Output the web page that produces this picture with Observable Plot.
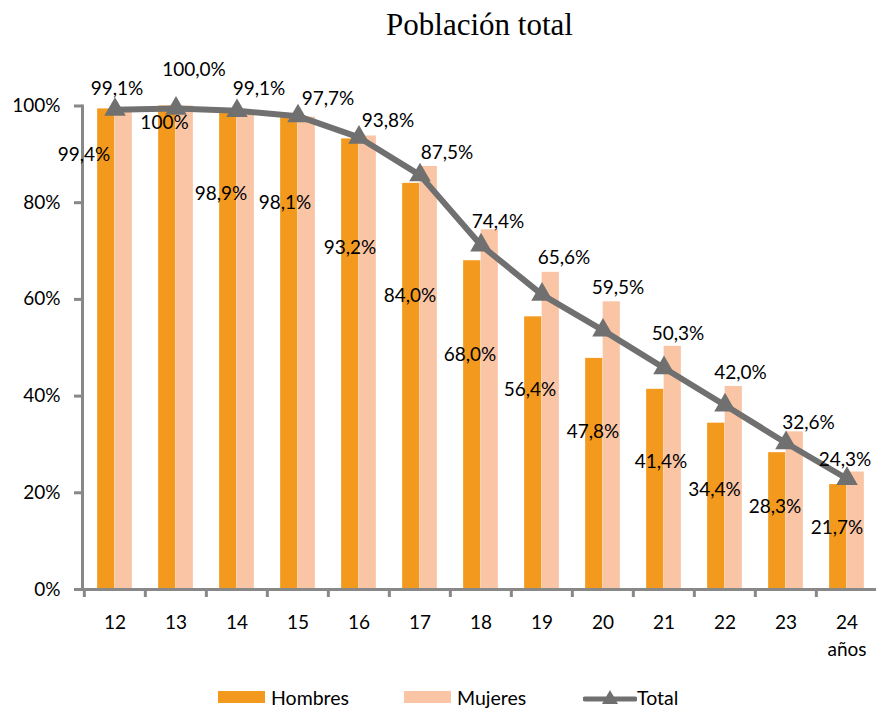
<!DOCTYPE html>
<html>
<head>
<meta charset="utf-8">
<script src="https://cdn.jsdelivr.net/npm/d3@7"></script>
<script src="https://cdn.jsdelivr.net/npm/@observablehq/plot@0.6"></script>
<style>
  html, body { margin: 0; padding: 0; background: #fff; }
  #wrap { position: relative; width: 876px; height: 709px; overflow: hidden; }
  #legend { position: absolute; left: 0; top: 686px; width: 876px; height: 22px;
            font-family: Lato, "Open Sans", sans-serif; font-size: 19.5px; color: #000; }
  .li { position: absolute; top: 0; display: flex; align-items: center; height: 22px; }
  .sw { width: 47px; height: 12px; margin-right: 6px; }
</style>
</head>
<body>
<div id="wrap">
  <div id="chart"></div>
  <div id="legend"></div>
</div>
<script>
// ---- data ----
const ages = [12, 13, 14, 15, 16, 17, 18, 19, 20, 21, 22, 23, 24];
const hombres = [99.4, 100, 98.9, 98.1, 93.2, 84.0, 68.0, 56.4, 47.8, 41.4, 34.4, 28.3, 21.7];
const mujeres = [99.1, 100.0, 99.1, 97.7, 93.8, 87.5, 74.4, 65.6, 59.5, 50.3, 42.0, 32.6, 24.3];
const total = [99.25, 99.5, 99.0, 97.9, 93.5, 85.7, 71.2, 61.0, 53.6, 45.8, 38.1, 30.3, 22.9];
const hombresText = ["99,4%", "100%", "98,9%", "98,1%", "93,2%", "84,0%", "68,0%", "56,4%", "47,8%", "41,4%", "34,4%", "28,3%", "21,7%"];
const mujeresText = ["99,1%", "100,0%", "99,1%", "97,7%", "93,8%", "87,5%", "74,4%", "65,6%", "59,5%", "50,3%", "42,0%", "32,6%", "24,3%"];
const yTicks = [0, 20, 40, 60, 80, 100];
const title = "Población total";
const unitLabel = "años";
const seriesNames = ["Hombres", "Mujeres", "Total"];

// ---- label placement (manual nudges as in the original) ----
const hombresLabelAt = [89.8, 96.4, 81.9, 80.0, 70.7, 60.8, 48.6, 41.2, 32.5, 26.3, 20.7, 17.0, 12.8];
const hombresLabelDx = [-31, -11.5, -16, -13, -9, -10, -11, -12, -10, -3, -10.5, -11, -10];
const mujeresLabelAt = [103.5, 107.4, 103.5, 101.5, 97.0, 90.4, 76.1, 68.5, 62.3, 52.9, 44.7, 34.5, 26.7];
const mujeresLabelDx = [2, 18, 22, 30, 29, 27, 17, 22, 15, 14, 15.5, 22.5, -2];

// ---- styles ----
const cH = "#F39A1E", cM = "#F9C5A5", cT = "#707070", cAxis = "#888888";
const font = "Lato, 'Open Sans', sans-serif";
const fs = 19;

const rows = ages.map((a, i) => ({age: a, h: hombres[i], m: mujeres[i], t: total[i],
  ht: hombresText[i], mt: mujeresText[i], hy: hombresLabelAt[i], my: mujeresLabelAt[i],
  hdx: hombresLabelDx[i], mdx: mujeresLabelDx[i]}));

const W = 876, H = 709;
const x0 = 82, x1 = 879;
const bw = (x1 - x0) / ages.length;
const barW = 17.5;

const labelMarks = [];
rows.forEach(r => {
  labelMarks.push(Plot.text([r], {x: "age", y: "hy", text: "ht", dx: r.hdx, fontSize: fs, fill: "#000", textAnchor: "middle"}));
  labelMarks.push(Plot.text([r], {x: "age", y: "my", text: "mt", dx: r.mdx, fontSize: fs, fill: "#000", textAnchor: "middle"}));
});

const chart = Plot.plot({
  width: W, height: H,
  marginLeft: x0, marginRight: 0, marginTop: 105.5, marginBottom: 120,
  style: {fontFamily: font, fontSize: fs + "px", color: "#000", background: "#fff"},
  x: {type: "band", domain: ages, range: [x0, x1], padding: 0},
  y: {domain: [0, 100], range: [589, 105.5]},
  marks: [
    Plot.barY(rows, {x: "age", y: "h", fill: cH, insetLeft: bw / 2 - barW, insetRight: bw / 2}),
    Plot.barY(rows, {x: "age", y: "m", fill: cM, insetLeft: bw / 2, insetRight: bw / 2 - barW}),
    Plot.axisY({ticks: yTicks, tickFormat: d => d + "%", tickSize: 8, tickPadding: 14, stroke: cAxis, strokeWidth: 3, fontSize: fs, label: null}),
    Plot.axisX({ticks: ages, tickSize: 8, tickFormat: () => "", dx: -bw / 2, stroke: cAxis, strokeWidth: 3, label: null}),
    Plot.axisX({ticks: ages, tickSize: 0, tickPadding: 26, fontSize: fs, label: null}),
    Plot.frame({anchor: "left", stroke: cAxis, strokeWidth: 3}),
    Plot.frame({anchor: "bottom", stroke: cAxis, strokeWidth: 3}),
    Plot.line(rows, {x: "age", y: "t", stroke: cT, strokeWidth: 6}),
    Plot.dot(rows, {x: "age", y: "t", symbol: "triangle", r: 8, fill: cT, stroke: "none"}),
    ...labelMarks,
    Plot.text([unitLabel], {x: () => ages[ages.length - 1], frameAnchor: "bottom", dy: 66, fontSize: fs, fill: "#000"}),
    Plot.text([title], {frameAnchor: "top", dy: -93, fontSize: 31, fontFamily: "'Liberation Serif', 'DejaVu Serif', serif", fill: "#000"})
  ]
});
document.getElementById("chart").appendChild(chart);

// ---- legend ----
const legend = document.getElementById("legend");
const items = [
  {name: seriesNames[0], left: 218, type: "bar", color: cH},
  {name: seriesNames[1], left: 404, type: "bar", color: cM},
  {name: seriesNames[2], left: 583, type: "line", color: cT}
];
items.forEach(it => {
  const d = document.createElement("div");
  d.className = "li";
  d.style.left = it.left + "px";
  if (it.type === "bar") {
    const s = document.createElement("div");
    s.className = "sw";
    s.style.background = it.color;
    d.appendChild(s);
  } else {
    const ns = "http://www.w3.org/2000/svg";
    const svg = document.createElementNS(ns, "svg");
    svg.setAttribute("width", 54); svg.setAttribute("height", 22);
    const ln = document.createElementNS(ns, "line");
    ln.setAttribute("x1", 2); ln.setAttribute("x2", 52); ln.setAttribute("y1", 13); ln.setAttribute("y2", 13);
    ln.setAttribute("stroke", it.color); ln.setAttribute("stroke-width", 5); ln.setAttribute("stroke-linecap", "round");
    const tri = document.createElementNS(ns, "path");
    tri.setAttribute("d", "M27,4 L35,18 L19,18 Z");
    tri.setAttribute("fill", it.color);
    svg.appendChild(ln); svg.appendChild(tri);
    d.appendChild(svg);
  }
  const t = document.createElement("span");
  t.textContent = it.name;
  d.appendChild(t);
  legend.appendChild(d);
});
</script>
</body>
</html>
